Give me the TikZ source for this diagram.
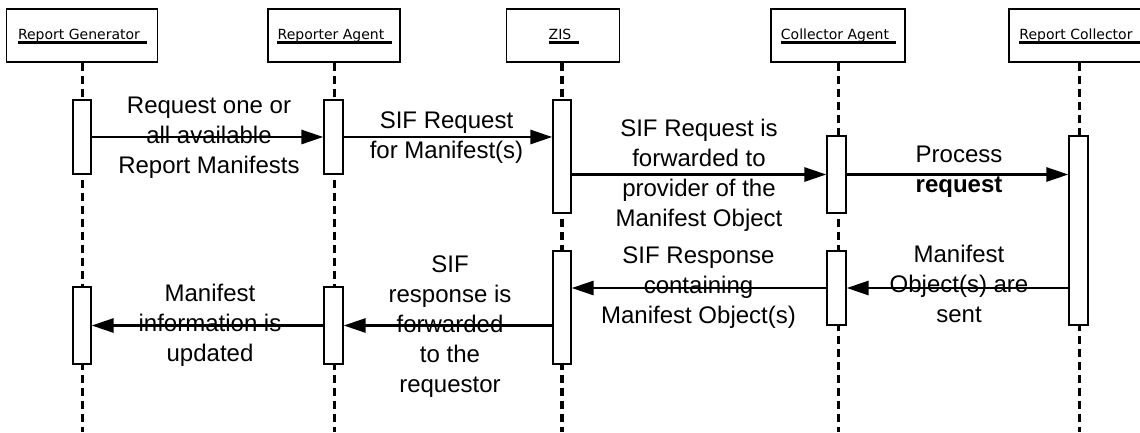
\documentclass[tikz,border=0pt]{standalone}
\usepackage{fontspec}
\setmainfont{Liberation Sans}
\newfontfamily\hdrfont{DejaVu Sans}
\usetikzlibrary{arrows.meta}
\begin{document}
\begin{tikzpicture}[x=1pt,y=-1pt,
  hbox/.style={draw, line width=1.3pt, fill=white, minimum height=53pt, inner sep=0pt},
  htext/.style={font=\hdrfont\fontsize{14}{16}\selectfont, inner sep=0pt, anchor=base},
  uline/.style={line width=2.6pt},
  life/.style={line width=3pt, dash pattern=on 8pt off 5pt},
  act/.style={draw, line width=1.3pt, fill=white, minimum width=18pt, inner sep=0pt},
  msg/.style={line width=2.8pt, -{Triangle[length=22pt,width=14pt]}},
  lbl/.style={font=\fontsize{24}{30}\selectfont, align=center, inner sep=0pt}
]
\clip (0,0) rectangle (1140,432);
\fill[white] (0,0) rectangle (1140,432);

% headers
\node[hbox, minimum width=151pt] (rg) at (82,35.5) {};
\node[hbox, minimum width=132pt] (ra) at (334,35.5) {};
\node[hbox, minimum width=113pt] (zis) at (563,35.5) {};
\node[hbox, minimum width=134pt] (ca) at (838,35.5) {};
\node[hbox, minimum width=140pt] (rc) at (1079,35.5) {};

\node[htext] (rgt) at (79,39.3) {Report Generator};
\node[htext] (rat) at (331,39.3) {Reporter Agent};
\node[htext] (zist) at (560,39.3) {ZIS};
\node[htext] (cat) at (835,39.3) {Collector Agent};
\node[htext] (rct) at (1076,39.3) {Report Collector};
\foreach \t in {rgt,rat,zist,cat,rct}
  \draw[uline] ([yshift=-3.3pt]\t.base west) -- ([xshift=7pt,yshift=-3.3pt]\t.base east);

% lifeline ends
\coordinate (rgend) at (82,432);
\coordinate (raend) at (334,432);
\coordinate (zisend) at (562,432);
\coordinate (caend) at (838,432);
\coordinate (rcend) at (1079,432);

\draw[life] (rg.south) -- (rgend);
\draw[life] (ra.south) -- (raend);
\draw[life, line width=4pt] (zis.south -| zisend) -- (zisend);
\draw[life] (ca.south) -- (caend);
\draw[life] (rc.south) -- (rcend);

% activation boxes
\node[act, minimum height=74pt] (rg1) at (82,137) {};
\node[act, minimum width=19pt, minimum height=74pt] (ra1) at (333.5,137) {};
\node[act, minimum height=113pt] (zis1) at (562,156.5) {};
\node[act, minimum width=19pt, minimum height=77pt] (ca1) at (836.5,174.5) {};
\node[act, minimum width=19pt, minimum height=189pt] (rc1) at (1078.5,230.5) {};
\node[act, minimum height=77pt] (rg2) at (82,325.5) {};
\node[act, minimum width=19pt, minimum height=77pt] (ra2) at (333.5,325.5) {};
\node[act, minimum height=113pt] (zis2) at (562,307.5) {};
\node[act, minimum width=19pt, minimum height=74pt] (ca2) at (836.5,288) {};

% labels
\node[lbl] (l1) at (209,137.5) {Request one or\\all available\\Report Manifests};
\node[lbl] (l2) at (446.5,137.5) {SIF Request\\for Manifest(s)};
\node[lbl] (l3) at (699,175) {SIF Request is\\forwarded to\\provider of the\\Manifest Object};
\node[lbl] (l4) at (959,172) {Process\\\textbf{request}};
\node[lbl] (l5) at (698.5,287.5) {SIF Response\\containing\\Manifest Object(s)};
\node[lbl] (l6) at (959,284) {Manifest\\Object(s) are\\sent};
\node[lbl] (l7) at (450,326.5) {SIF\\response is\\forwarded\\to the\\requestor};
\node[lbl] (l8) at (210,325.5) {Manifest\\information is\\updated};

% messages
\draw[msg] (rg1.east) -- (ra1.west);
\draw[msg] (ra1.east) -- (zis1.west |- ra1.east);
\draw[msg] (zis1.east |- ca1.west) -- (ca1.west);
\draw[msg] (ca1.east) -- (rc1.west |- ca1.east);
\draw[msg] (rc1.west |- ca2.east) -- (ca2.east);
\draw[msg] (ca2.west) -- (zis2.east |- ca2.west);
\draw[msg] (zis2.west |- ra2.east) -- (ra2.east);
\draw[msg] (ra2.west) -- (rg2.east);
\end{tikzpicture}
\end{document}
